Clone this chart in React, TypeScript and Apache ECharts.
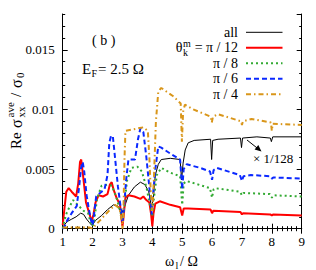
import React, { useEffect, useRef } from "react";
import * as echarts from "echarts";

const FONT = '"Liberation Serif", "Times New Roman", serif';

// omega_l / Omega values and Re sigma / sigma0 readings
const allX = [1.0, 1.05, 1.15, 1.3, 1.45, 1.6, 1.7, 1.8, 1.9, 1.97, 2.02, 2.1, 2.3, 2.5, 2.7, 2.85, 2.97, 3.05, 3.2, 3.4, 3.6, 3.75, 3.88, 3.97, 4.03, 4.1, 4.2, 4.3, 4.6, 4.93, 4.98, 5.03, 5.1, 5.2, 5.4, 5.95, 5.985, 6.02, 6.2, 6.95, 6.985, 7.02, 7.5, 7.95, 7.985, 8.03, 9.0];
const allY = [0.0, 0.0003, 0.0006, 0.0008, 0.001, 0.0013, 0.0012, 0.0008, 0.0005, 0.0003, 0.0004, 0.0007, 0.0011, 0.0016, 0.002, 0.0019, 0.0013, 0.0017, 0.0028, 0.0035, 0.0039, 0.0037, 0.0031, 0.0018, 0.0025, 0.0045, 0.0054, 0.0058, 0.0059, 0.0058, 0.0041, 0.0055, 0.0066, 0.0072, 0.0074, 0.0075, 0.0058, 0.0074, 0.0075, 0.0076, 0.0068, 0.0076, 0.0077, 0.0076, 0.0073, 0.0077, 0.0077];

const p12X = [1.0, 1.05, 1.12, 1.2, 1.3, 1.45, 1.52, 1.58, 1.62, 1.68, 1.78, 1.9, 1.97, 2.03, 2.1, 2.2, 2.35, 2.5, 2.58, 2.64, 2.7, 2.8, 2.92, 2.97, 3.0, 3.03, 3.1, 3.2, 3.4, 3.6, 3.7, 3.8, 3.9, 3.96, 4.0, 4.04, 4.1, 4.25, 4.6, 4.93, 5.0, 5.05, 5.2, 5.95, 6.0, 6.04, 6.95, 7.0, 7.04, 7.95, 8.0, 8.04, 9.0];
const p12Y = [0.0003, 0.0015, 0.0031, 0.0034, 0.0031, 0.0027, 0.0038, 0.0056, 0.0058, 0.0045, 0.0022, 0.0012, 0.0006, 0.0012, 0.0022, 0.0028, 0.0027, 0.0029, 0.0037, 0.0039, 0.0033, 0.0026, 0.002, 0.0008, 0.0002, 0.0008, 0.0026, 0.0028, 0.0027, 0.0025, 0.0027, 0.0024, 0.0022, 0.0012, 0.0002, 0.0013, 0.0021, 0.0023, 0.002, 0.0018, 0.0011, 0.0017, 0.0017, 0.0016, 0.0013, 0.0015, 0.0014, 0.0012, 0.0013, 0.0012, 0.0011, 0.0012, 0.0011];

const p8X = [1.0, 1.05, 1.13, 1.24, 1.35, 1.5, 1.7, 1.85, 1.95, 2.0, 2.05, 2.15, 2.3, 2.5, 2.65, 2.8, 2.92, 3.0, 3.05, 3.15, 3.3, 3.5, 3.65, 3.8, 3.92, 4.0, 4.05, 4.15, 4.3, 4.6, 4.93, 5.0, 5.05, 5.15, 5.93, 6.0, 6.05, 6.1, 6.93, 7.0, 7.05, 7.93, 8.0, 8.05, 9.0];
const p8Y = [0.0, 0.0006, 0.0013, 0.0019, 0.0024, 0.002, 0.0015, 0.0013, 0.0004, 0.0002, 0.0006, 0.0025, 0.0036, 0.0037, 0.0036, 0.0026, 0.0015, 0.0008, 0.0015, 0.004, 0.0051, 0.0052, 0.0048, 0.0035, 0.002, 0.001, 0.0025, 0.0045, 0.0051, 0.0047, 0.0044, 0.002, 0.0038, 0.004, 0.0034, 0.0026, 0.0033, 0.0034, 0.0031, 0.0028, 0.003, 0.0029, 0.0026, 0.0028, 0.0027];

const p6X = [1.0, 1.05, 1.15, 1.3, 1.47, 1.55, 1.62, 1.67, 1.72, 1.8, 1.88, 1.95, 2.0, 2.05, 2.12, 2.25, 2.4, 2.5, 2.56, 2.62, 2.68, 2.75, 2.85, 2.93, 3.0, 3.06, 3.12, 3.2, 3.42, 3.52, 3.6, 3.7, 3.8, 3.9, 3.98, 4.03, 4.1, 4.2, 4.3, 4.6, 4.93, 5.0, 5.05, 5.15, 5.6, 5.93, 6.0, 6.05, 6.15, 6.93, 7.0, 7.05, 7.3, 7.93, 8.0, 8.05, 9.0];
const p6Y = [0.0, 0.0001, 0.0007, 0.0013, 0.0019, 0.0035, 0.0052, 0.0056, 0.0048, 0.0028, 0.0016, 0.0007, 0.0003, 0.0012, 0.0027, 0.003, 0.0033, 0.0045, 0.0072, 0.0078, 0.0077, 0.006, 0.0035, 0.002, 0.0005, 0.002, 0.004, 0.0058, 0.0058, 0.0075, 0.0084, 0.0081, 0.006, 0.0035, 0.0012, 0.003, 0.005, 0.0069, 0.0068, 0.0063, 0.0058, 0.0033, 0.005, 0.0054, 0.0051, 0.0048, 0.0041, 0.0049, 0.0051, 0.0045, 0.004, 0.0044, 0.0045, 0.0044, 0.0042, 0.0043, 0.0042];

const p4X = [1.0, 1.5, 1.9, 2.0, 2.1, 2.25, 2.47, 2.75, 2.9, 2.97, 3.0, 3.03, 3.07, 3.1, 3.3, 3.5, 3.7, 3.85, 3.9, 3.95, 4.0, 4.05, 4.12, 4.2, 4.3, 4.7, 4.95, 4.99, 5.03, 5.09, 5.37, 5.95, 5.99, 6.03, 6.2, 6.97, 7.0, 7.03, 7.32, 7.97, 8.0, 8.03, 9.0];
const p4Y = [0.0001, 0.0001, 0.0001, 0.0, 0.0003, 0.0007, 0.0013, 0.002, 0.0017, 0.0008, 0.0, 0.001, 0.006, 0.0082, 0.0083, 0.0084, 0.0085, 0.0082, 0.006, 0.003, 0.0015, 0.004, 0.009, 0.0115, 0.0118, 0.0111, 0.0105, 0.0073, 0.0098, 0.0104, 0.01, 0.0094, 0.0089, 0.0094, 0.0096, 0.009, 0.0087, 0.009, 0.0092, 0.0089, 0.0082, 0.0088, 0.0087];

const seriesNames = ["all", "π / 12", "π / 8", "π / 6", "π / 4"];
const seriesColors = ["#000000", "#ff0000", "#33aa33", "#0a28ff", "#d9961a"];

const zip = (xs: number[], ys: number[]) => xs.map((x, i) => [x, ys[i]]);

export default function App() {
  const ref = useRef<HTMLDivElement>(null);

  useEffect(() => {
    const chart = echarts.init(ref.current!, null, { renderer: "svg" });
    const black = "#000";
    const line = { show: true, lineStyle: { color: black, width: 1 } };

    const txt = (text: string, x: number, y: number, size: number, align = "left") => ({
      type: "text",
      x,
      y,
      silent: true,
      style: {
        text,
        fontSize: size,
        fontFamily: FONT,
        fill: black,
        align,
        verticalAlign: "middle",
        textAlign: align,
        textVerticalAlign: "middle",
      },
    });

    const dashes: any[] = [null, null, [2, 3], [5, 3], [5, 3, 1.5, 3]];
    const widths = [1, 2, 2, 2, 2];
    const legendY = [32.3, 47.8, 63.3, 78.8, 94.3];

    const legendGraphics: any[] = [];
    legendY.forEach((y, i) => {
      legendGraphics.push({
        type: "line",
        silent: true,
        shape: { x1: 246, y1: y, x2: 282.5, y2: y },
        style: {
          stroke: seriesColors[i],
          lineWidth: widths[i],
          lineDash: dashes[i] || undefined,
        },
      });
    });
    legendGraphics.push(txt("all", 238, legendY[0], 14, "right"));
    legendGraphics.push(txt("= π / 12", 238, legendY[1], 14, "right"));
    legendGraphics.push(txt("θ", 182.5, legendY[1], 14, "right"));
    legendGraphics.push(txt("m", 183, legendY[1] - 4.5, 10));
    legendGraphics.push(txt("k", 183, legendY[1] + 5, 10));
    legendGraphics.push(txt("π / 8", 238, legendY[2], 14, "right"));
    legendGraphics.push(txt("π / 6", 238, legendY[3], 14, "right"));
    legendGraphics.push(txt("π / 4", 238, legendY[4], 14, "right"));

    const yTitle = {
      type: "group",
      x: 16,
      y: 149,
      rotation: Math.PI / 2,
      children: [
        txt("Re", 0, 0, 15),
        txt("σ", 21, 0, 16),
        txt("ave", 31.5, -6, 11),
        txt("xx", 31.5, 4.5, 11),
        txt("/", 52, 0, 15),
        txt("σ", 61, 0, 16),
        txt("0", 71, 4, 11),
      ],
    };

    const series = [
      zip(allX, allY),
      zip(p12X, p12Y),
      zip(p8X, p8Y),
      zip(p6X, p6Y),
      zip(p4X, p4Y),
    ].map((data, i) => ({
      name: seriesNames[i],
      type: "line",
      data,
      symbol: "none",
      showSymbol: false,
      xAxisIndex: 0,
      yAxisIndex: 0,
      lineStyle: {
        color: seriesColors[i],
        width: widths[i],
        type: dashes[i] || "solid",
      },
      z: 2 + i,
    }));

    const xBase = (position: string, labels: boolean) => ({
      type: "value",
      position,
      min: 1,
      max: 9,
      interval: 1,
      axisLine: line,
      axisTick: { show: true, inside: true, length: 5, lineStyle: { color: black } },
      minorTick: { show: true, splitNumber: 6, length: 2.5, lineStyle: { color: black } },
      splitLine: { show: false },
      minorSplitLine: { show: false },
      axisLabel: {
        show: labels,
        fontFamily: FONT,
        fontSize: 13,
        color: black,
        margin: 6,
      },
    });

    const yMajor = (position: string, labels: boolean) => ({
      type: "value",
      position,
      min: 0,
      max: 0.018,
      interval: 0.005,
      axisLine: line,
      axisTick: { show: true, inside: true, length: 5, lineStyle: { color: black } },
      splitLine: { show: false },
      axisLabel: {
        show: labels,
        showMaxLabel: false,
        fontFamily: FONT,
        fontSize: 13,
        color: black,
        margin: 8,
      },
    });
    const yMinor = (position: string) => ({
      type: "value",
      position,
      min: 0,
      max: 0.018,
      interval: 0.001,
      axisLine: { show: false },
      axisTick: { show: true, inside: true, length: 2.5, lineStyle: { color: black } },
      splitLine: { show: false },
      axisLabel: { show: false },
    });

    chart.setOption({
      animation: false,
      backgroundColor: "#ffffff",
      grid: { left: 62.7, right: 14.3, top: 14, bottom: 41.3, containLabel: false },
      xAxis: [xBase("bottom", true), xBase("top", false)],
      yAxis: [yMajor("left", true), yMinor("left"), yMajor("right", false), yMinor("right")],
      series,
      graphic: [
        ...legendGraphics,
        txt("( b )", 92, 40, 14),
        txt("E", 82, 69, 15),
        txt("F", 91.5, 73.5, 10),
        txt("= 2.5 Ω", 98, 69, 15),
        {
          type: "line",
          silent: true,
          shape: { x1: 247, y1: 140, x2: 259, y2: 149.5 },
          style: { stroke: black, lineWidth: 1 },
        },
        {
          type: "polygon",
          silent: true,
          shape: { points: [[261.5, 151.5], [254.6, 149.6], [258.3, 144.9]] },
          style: { fill: black },
        },
        txt("× 1/128", 253, 158, 13),
        txt("ω", 165, 261, 14),
        txt("l", 175.5, 265, 10),
        txt("/ Ω", 180, 261, 14),
        yTitle,
      ],
    });

    return () => chart.dispose();
  }, []);

  return (
    <div
      ref={ref}
      style={{ position: "absolute", left: 0, top: 0, width: 316, height: 270 }}
    />
  );
}
